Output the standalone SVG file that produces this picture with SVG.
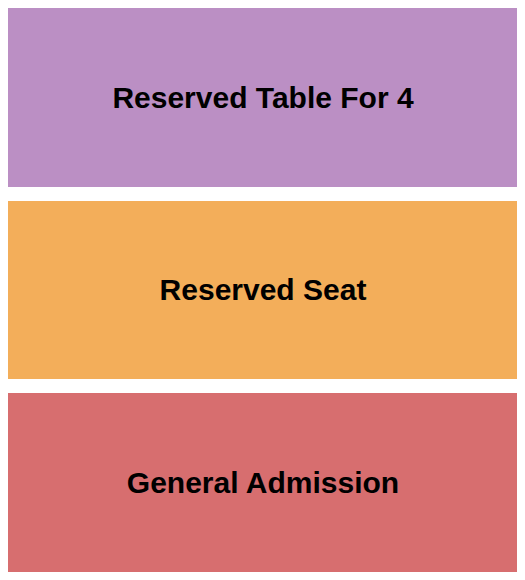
<svg xmlns="http://www.w3.org/2000/svg" width="525" height="580" viewBox="0 0 525 580">
<style>
.lbl{font-family:"Liberation Sans",Arial,sans-serif;font-weight:bold;font-size:30px;fill:#000;text-anchor:middle}
</style>
<rect width="525" height="580" fill="#fff"/>
<g id="reserved-table">
<rect x="8" y="8" width="509" height="179" fill="#BB8FC4"/>
<text class="lbl" x="263" y="108">Reserved Table For 4</text>
</g>
<g id="reserved-seat">
<rect x="8" y="201" width="509" height="178" fill="#F3AE5A"/>
<text class="lbl" x="263" y="300">Reserved Seat</text>
</g>
<g id="general-admission">
<rect x="8" y="393" width="509" height="179" fill="#D76E6F"/>
<text class="lbl" x="263" y="493">General Admission</text>
</g>
<g id="connectors"/>
</svg>
